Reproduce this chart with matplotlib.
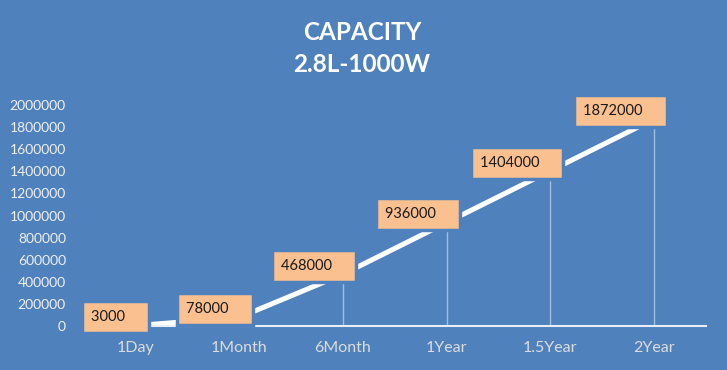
import numpy as np
import matplotlib.pyplot as plt

#%% Data
categories = ['1Day', '1Month', '6Month', '1Year', '1.5Year', '2Year']
capacity = [3000, 78000, 468000, 936000, 1404000, 1872000]
yticks = list(range(0, 2000001, 200000))

bg = '#4F81BD'
box_color = '#FAC090'

#%% Figure
fig = plt.figure(figsize=(7.27, 3.70), dpi=100, facecolor=bg)
ax = fig.add_axes([0.1155, 0.119, 0.855, 0.597], facecolor=bg)
x = np.arange(len(categories))

# Drop lines from each point to the axis
for xi, yi in zip(x, capacity):
    ax.vlines(xi, 0, yi, color='#dbe5f1', linewidth=1.0, alpha=0.6, zorder=1)

# Main line
ax.plot(x, capacity, color='white', linewidth=3.6, solid_capstyle='butt', zorder=2)

# Data labels (boxes sit left of / above the point)
for xi, yi in zip(x, capacity):
    ax.annotate(f'{yi}    ', xy=(xi, yi), xytext=(3, 6), textcoords='offset points',
                ha='right', va='center', fontsize=10.5, family='Lato', color='#1a1a1a',
                bbox=dict(boxstyle='square,pad=0.62', facecolor=box_color,
                          edgecolor=bg, linewidth=2.5), zorder=3)

# Axes
ax.set_xlim(-0.5, len(categories) - 0.5)
ax.set_ylim(0, 2000000)
ax.set_xticks(x)
ax.set_xticklabels(categories, family='Lato', fontsize=11.5, color='#dcdcdc')
ax.set_yticks(yticks)
ax.set_yticklabels([str(v) for v in yticks], family='Lato', fontsize=10, color='#f0f0f0')
ax.tick_params(axis='x', length=0, pad=11)
ax.tick_params(axis='y', length=0, pad=13)
for s in ['top', 'right', 'left']:
    ax.spines[s].set_visible(False)
ax.spines['bottom'].set_color('#e8eef6')
ax.spines['bottom'].set_linewidth(1.5)

# Title
fig.text(0.498, 0.912, 'CAPACITY', ha='center', va='center', fontsize=17.5,
         fontweight='bold', family='Lato', color='white')
fig.text(0.498, 0.826, '2.8L-1000W', ha='center', va='center', fontsize=17.5,
         fontweight='bold', family='Lato', color='white')

plt.savefig('out.png', facecolor=bg)
